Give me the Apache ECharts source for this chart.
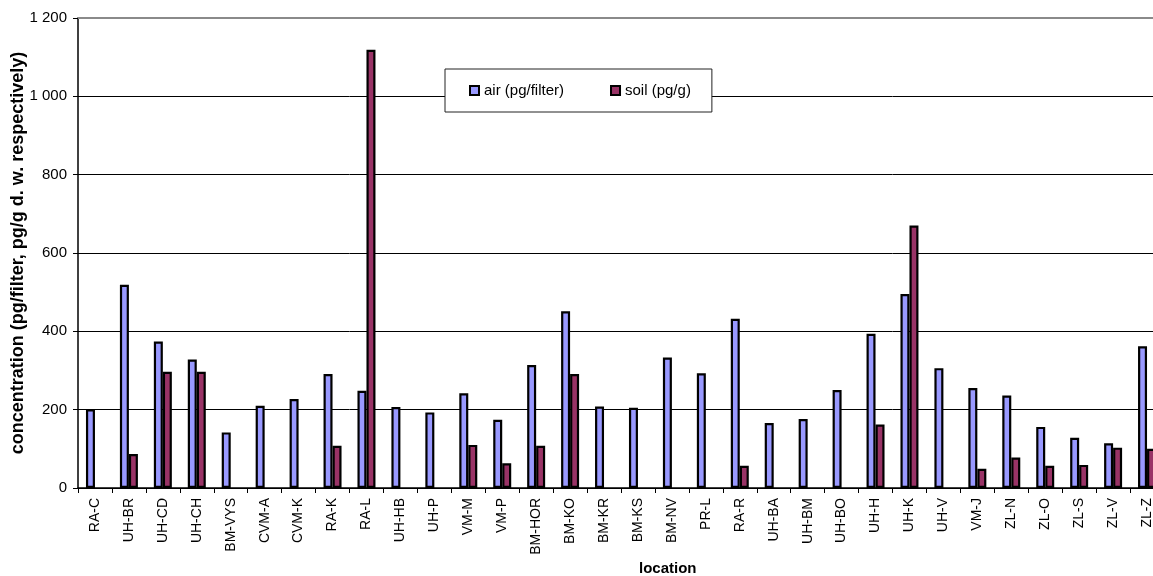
<!DOCTYPE html>
<html>
<head>
<meta charset="utf-8">
<script src="https://cdn.jsdelivr.net/npm/echarts@6/dist/echarts.min.js"></script>
<style>
  html, body { margin: 0; padding: 0; background: #fff; overflow: hidden; }
</style>
</head>
<body>
<!-- plot runs past the right edge of the window, like the original -->
<div id="conc" style="width:1166px;height:576px"></div>
<script>
var locations = ['RA-C', 'UH-BR', 'UH-CD', 'UH-CH', 'BM-VYS', 'CVM-A', 'CVM-K', 'RA-K', 'RA-L', 'UH-HB',
  'UH-P', 'VM-M', 'VM-P', 'BM-HOR', 'BM-KO', 'BM-KR', 'BM-KS', 'BM-NV', 'PR-L', 'RA-R',
  'UH-BA', 'UH-BM', 'UH-BO', 'UH-H', 'UH-K', 'UH-V', 'VM-J', 'ZL-N', 'ZL-O', 'ZL-S', 'ZL-V', 'ZL-Z'];

// air (pg/filter)
var airValues = [201, 519, 374, 328, 142, 210, 227, 291, 248, 207,
  193, 242, 174, 314, 451, 208, 205, 333, 293, 432,
  166, 176, 250, 394, 495, 306, 255, 236, 156, 128, 114, 362];

// soil (pg/g), null = no sample
var soilValues = [null, 87, 297, 297, null, null, null, 108, 1119, null,
  null, 110, 63, 108, 291, null, null, null, null, 57,
  null, null, null, 162, 670, null, 49, 78, 57, 59, 103, 100];

var seriesNames = ['air (pg/filter)', 'soil (pg/g)'];
var yTicks = [0, 1200, 200];   // min, max, step

var myChart = echarts.init(document.getElementById('conc'));

function spaced(v) {
  return String(v).replace(/\B(?=(\d{3})+(?!\d))/g, ' ');
}

var font = 'Arial, "Liberation Sans", sans-serif';

var option = {
  animation: false,
  backgroundColor: '#fff',
  textStyle: { fontFamily: font },
  grid: { left: 78, right: 2, top: 18, bottom: 88, outerBoundsMode: 'none', containLabel: false },
  legend: {
    data: seriesNames,
    left: 445,
    top: 69,
    padding: [14, 21, 14, 24],
    itemWidth: 9,
    itemHeight: 9,
    itemGap: 46,
    icon: 'rect',
    backgroundColor: '#fff',
    borderColor: '#222',
    borderWidth: 1,
    textStyle: { fontSize: 15, color: '#000', fontFamily: font }
  },
  graphic: [{
    type: 'text',
    left: 639,
    top: 561,
    style: { text: 'location', font: 'bold 15px ' + font, fill: '#000' }
  }],
  xAxis: [{
    type: 'category',
    data: locations,
    axisLine: { lineStyle: { color: '#000', width: 1.5 } },
    axisTick: { show: true, length: 5, lineStyle: { color: '#000' } },
    axisLabel: { rotate: 90, margin: 10, fontSize: 14, color: '#000', interval: 0 }
  }, {
    type: 'category',
    data: locations,
    position: 'top',
    axisLine: { lineStyle: { color: '#8a8a8a', width: 2 } },
    axisTick: { show: false },
    axisLabel: { show: false }
  }],
  yAxis: {
    type: 'value',
    min: yTicks[0],
    max: yTicks[1],
    interval: yTicks[2],
    name: 'concentration (pg/filter, pg/g d. w. respectively)',
    nameLocation: 'middle',
    nameGap: 51,
    nameMoveOverlap: false,
    nameTextStyle: { fontWeight: 'bold', fontSize: 18, color: '#000' },
    axisLine: { show: true, lineStyle: { color: '#000', width: 1.5 } },
    axisTick: { show: true, length: 5, lineStyle: { color: '#000' } },
    axisLabel: { fontSize: 15, color: '#000', margin: 11, formatter: spaced },
    splitLine: { lineStyle: { color: ['#000', '#000', '#000', '#000', '#000', '#000', '#8a8a8a'], width: 1 } }
  },
  series: [{
    name: seriesNames[0],
    type: 'bar',
    data: airValues,
    barWidth: 9,
    barGap: '0%',
    itemStyle: { color: '#9999FF', borderColor: '#000', borderWidth: 2.2 }
  }, {
    name: seriesNames[1],
    type: 'bar',
    data: soilValues,
    barWidth: 9,
    barGap: '0%',
    itemStyle: { color: '#993366', borderColor: '#000', borderWidth: 2.2 }
  }]
};

myChart.setOption(option);
</script>
</body>
</html>
